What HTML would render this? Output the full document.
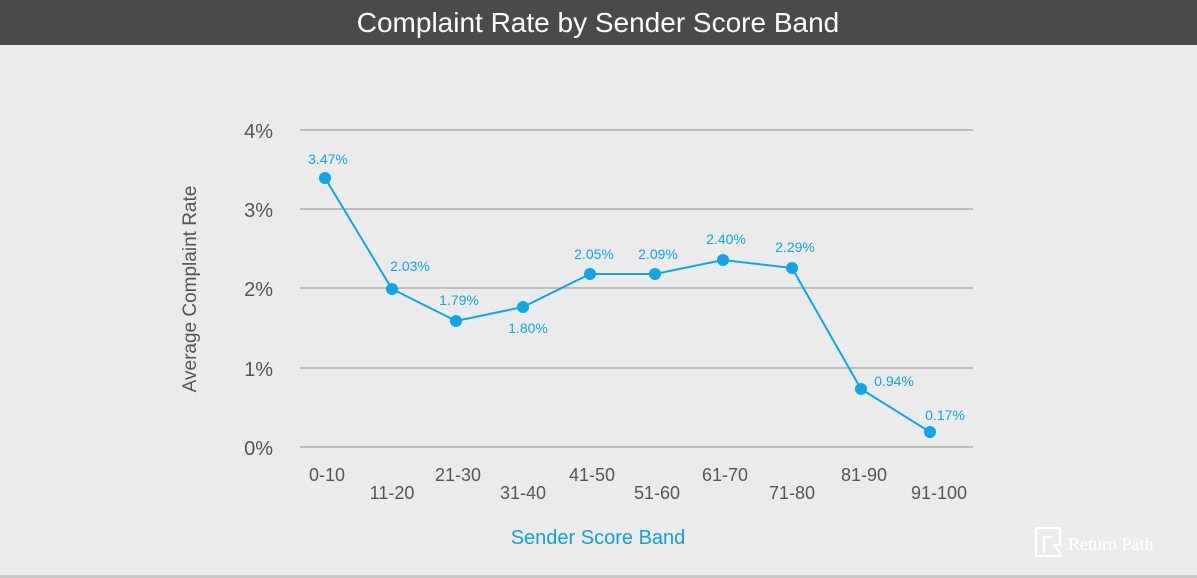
<!DOCTYPE html>
<html><head><meta charset="utf-8"><style>
html,body{margin:0;padding:0;background:#ebebeb;}
svg{display:block;font-family:"Liberation Sans",sans-serif;}
</style></head><body>
<svg width="1197" height="578" viewBox="0 0 1197 578" xmlns="http://www.w3.org/2000/svg">
<rect width="1197" height="578" fill="#ebebeb"/>
<rect width="1197" height="45" fill="#4a4a4c"/>
<text x="598" y="32" text-anchor="middle" fill="#fff" font-size="28">Complaint Rate by Sender Score Band</text>
<g stroke="#bdbdbd" stroke-width="2">
<line x1="300" y1="130" x2="973" y2="130"/>
<line x1="300" y1="209" x2="973" y2="209"/>
<line x1="300" y1="288" x2="973" y2="288"/>
<line x1="300" y1="368" x2="973" y2="368"/>
<line x1="300" y1="447" x2="973" y2="447"/>
</g>
<g fill="#555" font-size="20" text-anchor="end">
<text x="273" y="138">4%</text>
<text x="273" y="217">3%</text>
<text x="273" y="296">2%</text>
<text x="273" y="376">1%</text>
<text x="273" y="455">0%</text>
</g>
<text transform="translate(196,289) rotate(-90)" text-anchor="middle" fill="#555" font-size="19">Average Complaint Rate</text>
<g fill="#555" font-size="18" text-anchor="middle">
<text x="327" y="481">0-10</text>
<text x="392" y="499">11-20</text>
<text x="458" y="481">21-30</text>
<text x="523" y="499">31-40</text>
<text x="592" y="481">41-50</text>
<text x="657" y="499">51-60</text>
<text x="725" y="481">61-70</text>
<text x="792" y="499">71-80</text>
<text x="864" y="481">81-90</text>
<text x="939" y="499">91-100</text>
</g>
<text x="598" y="544" text-anchor="middle" fill="#10a0e0" font-size="20">Sender Score Band</text>
<polyline fill="none" stroke="#10a5e6" stroke-width="2" points="325,178 392,289 456,321 523,307 590,274 655,274 723,260 792,268 861,389 930,432"/>
<g fill="#10a5e6">
<circle cx="325" cy="178" r="6"/><circle cx="392" cy="289" r="6"/><circle cx="456" cy="321" r="6"/>
<circle cx="523" cy="307" r="6"/><circle cx="590" cy="274" r="6"/><circle cx="655" cy="274" r="6"/>
<circle cx="723" cy="260" r="6"/><circle cx="792" cy="268" r="6"/><circle cx="861" cy="389" r="6"/>
<circle cx="930" cy="432" r="6"/>
</g>
<g fill="#10a5e6" font-size="14" text-anchor="middle">
<text x="328" y="164">3.47%</text>
<text x="410" y="271">2.03%</text>
<text x="459" y="305">1.79%</text>
<text x="528" y="333">1.80%</text>
<text x="594" y="259">2.05%</text>
<text x="658" y="259">2.09%</text>
<text x="726" y="244">2.40%</text>
<text x="795" y="252">2.29%</text>
<text x="894" y="386">0.94%</text>
<text x="945" y="420">0.17%</text>
</g>
<g stroke="#fff" stroke-width="2" fill="none">
<path d="M1036,528 H1060 V545 H1054 L1061,554 M1044,553 V537 H1052 M1036,528 V556 H1062"/>
</g>
<text x="1068" y="550" fill="#fff" font-size="18" font-family="Liberation Serif,serif">Return Path</text>
<rect x="0" y="575" width="1197" height="3" fill="#c8c8c8"/>
</svg>
</body></html>
